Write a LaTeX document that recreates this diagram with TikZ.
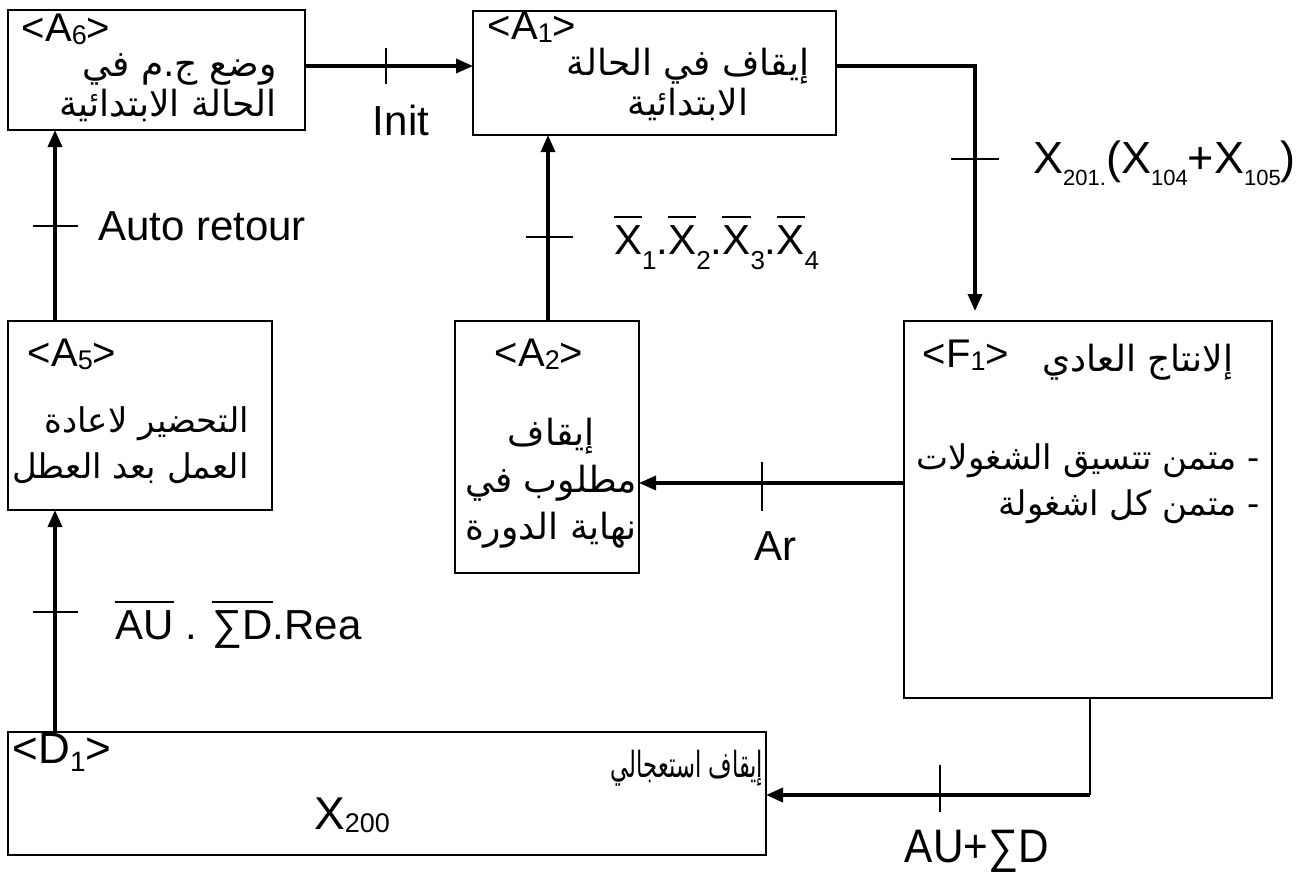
\documentclass[tikz,border=0pt]{standalone}
\usepackage{fontspec}
\setmainfont{Liberation Sans}
\newfontfamily\arabicfont[Script=Arabic]{DejaVu Sans}
\TeXXeTstate=1
\usetikzlibrary{arrows.meta}
\newcommand\lblfont{\fontsize{42}{48}\selectfont}
\newcommand\bigfont{\fontsize{45}{50}\selectfont}
\newcommand\hdrfont{\fontsize{40}{44}\selectfont}
\newcommand\arbfont{\arabicfont\fontsize{36}{40}\selectfont}
\newcommand\arbwide{\arabicfont\fontsize{36}{47}\selectfont}
\newcommand\arbsmall{\arabicfont\fontsize{34}{46}\selectfont}
\newcommand\subx[3]{\raisebox{#2}{\fontsize{#1}{#1}\selectfont #3}}
\newcommand\hsb[1]{\raisebox{-3pt}{\fontsize{27}{27}\selectfont #1}}
\newcommand\obar[1]{\setbox0=\hbox{#1}\rlap{\raisebox{\dimexpr\ht0+8pt\relax}{\rule{\wd0}{1.6pt}}}\box0\relax}
\begin{document}
\begin{tikzpicture}[x=1pt,y=-1pt,
  box/.style={draw,line width=1.5pt,inner sep=0pt,outer sep=0pt},
  conn/.style={line width=3.4pt,-{Triangle[length=17pt,width=14pt]}},
  thinline/.style={line width=1.5pt},
  tick/.style={line width=1.2pt},
  lbl/.style={inner sep=0pt,font=\lblfont},
  hdr/.style={inner sep=0pt,font=\hdrfont},
  arb/.style={inner sep=0pt,font=\arbfont},
  arbw/.style={inner sep=0pt,font=\arbwide},
  arbs/.style={inner sep=0pt,font=\arbsmall}]
\useasboundingbox (0,0) rectangle (1305,873);
% boxes
\node[box,minimum width=297pt,minimum height=120pt] (A6) at (156.5,70) {};
\node[box,minimum width=363pt,minimum height=124pt] (A1) at (654.5,73) {};
\node[box,minimum width=264pt,minimum height=189pt] (A5) at (140,415.5) {};
\node[box,minimum width=184pt,minimum height=252pt] (A2) at (547,447) {};
\node[box,minimum width=368pt,minimum height=377pt] (F1) at (1088,509.5) {};
\node[box,minimum width=758pt,minimum height=123pt] (D1) at (387,793.5) {};
% headers
\node[hdr] (h6) at (66,29) {<A\hsb{6}>};
\node[hdr] (h1) at (532,27) {<A\hsb{1}>};
\node[hdr] (h5) at (72,354) {<A\hsb{5}>};
\node[hdr] (h2) at (539,354) {<A\hsb{2}>};
\node[hdr] (hf) at (966,355) {<F\hsb{1}>};
\node[inner sep=0pt,font=\fontsize{44}{50}\selectfont] (hd) at (62,752) {<D\subx{28}{-8pt}{1}>};
% arabic texts
\node[arb,align=right,anchor=east] (t6) at (277,88) {\beginR وضع ج.م في\endR\\\beginR الحالة الابتدائية\endR};
\node[arb,align=center] (t1) at (688,84) {\beginR إيقاف في الحالة\endR\\\beginR الابتدائية\endR};
\node[arbs,align=right,anchor=east] (t5) at (249,445) {\beginR التحضير لاعادة\endR\\\beginR العمل بعد العطل\endR};
\node[arbw,align=center] (t2) at (551,483) {\beginR إيقاف\endR\\\beginR مطلوب في\endR\\\beginR نهاية الدورة\endR};
\node[arb] (tf) at (1138,362) {\beginR إلانتاج العادي\endR};
\node[arbs,align=right,anchor=east] (tf2) at (1260,484) {\beginR - متمن تتسيق الشغولات\endR\\\beginR - متمن كل اشغولة\endR};
\node[inner sep=0pt] (td) at (687,768) {\scalebox{0.63}[1]{\arbfont\beginR إيقاف استعجالي\endR}};
\node[inner sep=0pt,font=\fontsize{46}{50}\selectfont] (x200) at (352,815) {X\hsb{200}};
% connectors
\coordinate (yInit) at (0,66);
\coordinate (cA1F1) at (975,66);
\coordinate (yAr) at (0,483);
\coordinate (cF1D1) at (1090,795);
\draw[conn] (A6.east |- yInit) -- (A1.west |- yInit);
\draw[conn,shorten >=10pt] (A1.east |- yInit) -- (cA1F1) -- (cA1F1 |- F1.north);
\draw[conn] (F1.west |- yAr) -- (A2.east |- yAr);
\draw[conn] (A2.north -| 548,0) -- (A1.south -| 548,0);
\draw[conn] (A5.north -| 55,0) -- (A6.south -| 55,0);
\draw[conn] (D1.north -| 55,0) -- (A5.south -| 55,0);
\draw[thinline] (F1.south -| cF1D1) -- (cF1D1);
\draw[conn] (cF1D1) -- (D1.east |- cF1D1);
% ticks
\draw[tick] (386,48) -- (386,84);
\draw[tick] (951,159) -- (999,159);
\draw[tick] (762,462) -- (762,511);
\draw[tick] (526,237) -- (573,237);
\draw[tick] (33,226) -- (78,226);
\draw[tick] (33,612) -- (78,612);
\draw[tick] (940,765) -- (940,812);
% labels
\node[lbl] (lInit) at (401,120) {Init};
\node[inner sep=0pt,font=\bigfont,anchor=west] (lX201) at (1033,163) {X\subx{22}{-12pt}{201.}(X\subx{22}{-12pt}{104}+X\subx{22}{-12pt}{105})};
\node[lbl,anchor=west] (lXbar) at (614,243) {\obar{X}\subx{26}{-15pt}{1}.\obar{X}\subx{26}{-15pt}{2}.\obar{X}\subx{26}{-15pt}{3}.\obar{X}\subx{26}{-15pt}{4}};
\node[lbl] (lAr) at (775,546) {Ar};
\node[lbl,anchor=west] (lAuto) at (98,226) {Auto retour};
\node[lbl,anchor=west] (lAU) at (115,625) {\obar{AU} . \obar{∑D}.Rea};
\node[inner sep=0pt] (lAUD) at (977,851) {\scalebox{0.9}[1]{\fontsize{47}{50}\selectfont AU+∑D}};
\end{tikzpicture}
\end{document}
